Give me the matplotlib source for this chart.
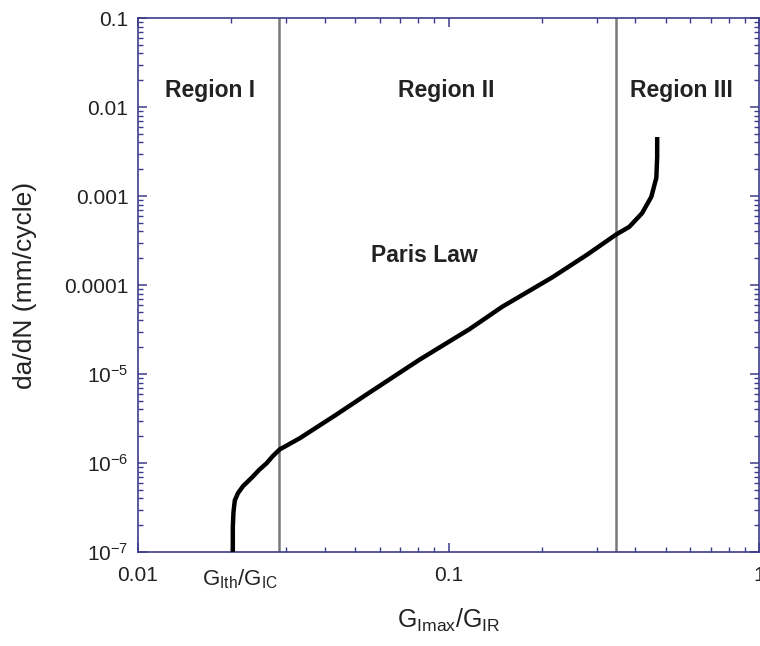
import matplotlib
matplotlib.use("Agg")
import matplotlib.pyplot as plt
import matplotlib.transforms as mtransforms
from matplotlib.ticker import LogLocator, NullFormatter, FixedLocator, FixedFormatter

plt.rcParams['font.family'] = ['Liberation Sans', 'DejaVu Sans']
plt.rcParams['mathtext.fontset'] = 'custom'
plt.rcParams['mathtext.rm'] = 'Liberation Sans'
plt.rcParams['mathtext.it'] = 'Liberation Sans:italic'
plt.rcParams['mathtext.bf'] = 'Liberation Sans:bold'

# ---- data ----
g_ratio = [0.0202, 0.0202, 0.0203, 0.0205, 0.0210, 0.0218, 0.0234, 0.0245,
           0.0260, 0.0272, 0.0286, 0.0332, 0.0430, 0.0557, 0.0807, 0.117,
           0.149, 0.216, 0.280, 0.347, 0.382, 0.420, 0.450, 0.467, 0.470, 0.470]
dadn = [1.0e-7, 1.9e-7, 2.8e-7, 3.8e-7, 4.6e-7, 5.5e-7, 7.0e-7, 8.3e-7,
        1.0e-6, 1.2e-6, 1.42e-6, 1.9e-6, 3.4e-6, 6.2e-6, 1.45e-5, 3.2e-5,
        5.7e-5, 1.22e-4, 2.2e-4, 3.7e-4, 4.5e-4, 6.4e-4, 9.8e-4, 1.6e-3, 2.77e-3, 4.6e-3]
region_bounds = [0.0285, 0.347]
region_labels = ["Region I", "Region II", "Region III"]
x_ticks = [0.01, 0.1, 1]
x_tick_labels = ["0.01", "0.1", "1"]
y_ticks = [1e-7, 1e-6, 1e-5, 1e-4, 1e-3, 1e-2, 1e-1]
y_tick_labels = [r"$\mathregular{10^{-7}}$", r"$\mathregular{10^{-6}}$",
                 r"$\mathregular{10^{-5}}$", "0.0001", "0.001", "0.01", "0.1"]

navy = '#3c3c8c'
txt = '#222222'

fig = plt.figure(figsize=(7.6, 6.46), dpi=100)
ax = fig.add_axes([138/760, 94/646, (759-138)/760, 534/646])
ax.set_xscale('log')
ax.set_yscale('log')
ax.set_xlim(0.01, 1)
ax.set_ylim(1e-7, 0.1)

for b in region_bounds:
    ax.axvline(b, color='#7a7a7a', lw=1.8, zorder=1)

ax.plot(g_ratio, dadn, color='black', lw=3.2, solid_capstyle='butt',
        solid_joinstyle='round', zorder=3)

for s in ax.spines.values():
    s.set_color(navy)
    s.set_linewidth(1.2)

ax.xaxis.set_major_locator(FixedLocator(x_ticks))
ax.xaxis.set_major_formatter(FixedFormatter(x_tick_labels))
ax.xaxis.set_minor_locator(LogLocator(base=10, subs=range(2, 10)))
ax.xaxis.set_minor_formatter(NullFormatter())
ax.yaxis.set_major_locator(FixedLocator(y_ticks))
ax.yaxis.set_major_formatter(FixedFormatter(y_tick_labels))
ax.yaxis.set_minor_locator(LogLocator(base=10, subs=range(2, 10), numticks=20))
ax.yaxis.set_minor_formatter(NullFormatter())

ax.tick_params(which='both', direction='in', top=True, right=True,
               color=navy, labelcolor=txt, labelsize=15)
ax.tick_params(which='major', length=6.5, width=1.1)
ax.tick_params(which='minor', length=3.5, width=1.0)
ax.tick_params(axis='x', pad=10)
ax.tick_params(axis='y', pad=7)

ax.set_ylabel("da/dN (mm/cycle)", fontsize=19, color=txt)
ax.yaxis.set_label_coords(-0.163, 0.5)
ax.set_xlabel(r"$\mathregular{G_{Imax}/G_{IR}}$", fontsize=18, color=txt)
ax.xaxis.set_label_coords(0.5, -0.103)

blend = mtransforms.blended_transform_factory(ax.transData, ax.transAxes)
ax.text(0.0213, -0.0618, r"$\mathregular{G_{Ith}/G_{IC}}$", transform=blend,
        ha='center', va='baseline', fontsize=16, color=txt)

region_x = [0.01705, 0.0986, 0.561]
for lx, lab in zip(region_x, region_labels):
    ax.text(lx, 0.0129, lab, ha='center', va='baseline', fontsize=16.5,
            fontweight='bold', color=txt)
ax.text(0.0837, 1.81e-4, "Paris Law", ha='center', va='baseline',
        fontsize=16.5, fontweight='bold', color=txt)

fig.savefig("out.png", dpi=100)
